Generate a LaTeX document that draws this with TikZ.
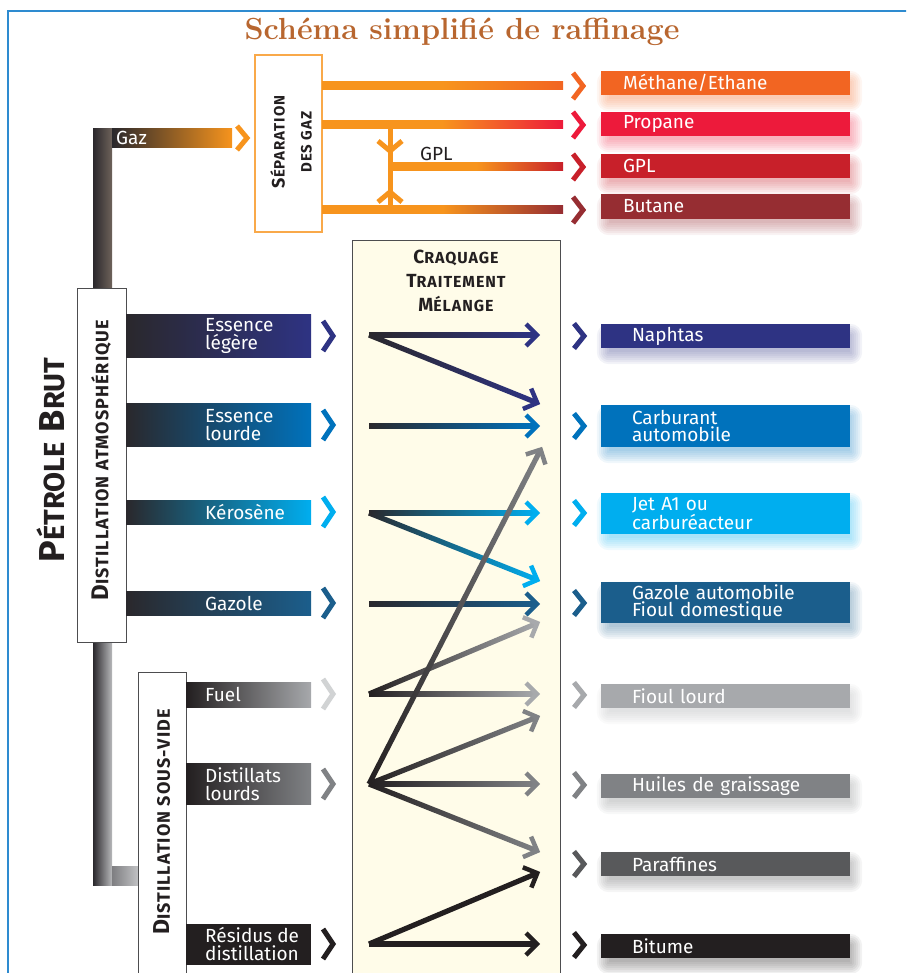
\documentclass[tikz,border=0pt]{standalone}
\usepackage{fontspec}
\newfontfamily\fira{Fira Sans}
\newfontfamily\firacap{Fira Sans}[LetterSpace=6]
\usetikzlibrary{calc,backgrounds}
\definecolor{titre}{HTML}{B8662F}
\definecolor{cadre}{HTML}{2E8BD0}
\definecolor{gazorange}{HTML}{F7941D}
\definecolor{methane}{HTML}{F26522}
\definecolor{propane}{HTML}{ED1A3B}
\definecolor{gpl}{HTML}{C8202A}
\definecolor{butane}{HTML}{962D32}
\definecolor{naphtas}{HTML}{2E3383}
\definecolor{carburant}{HTML}{0072BC}
\definecolor{jet}{HTML}{00AEEF}
\definecolor{gazole}{HTML}{1B5E8C}
\definecolor{fioul}{HTML}{A7A9AC}
\definecolor{fuelclair}{HTML}{D1D3D4}
\definecolor{huiles}{HTML}{808285}
\definecolor{paraffines}{HTML}{58595B}
\definecolor{bitume}{HTML}{231F20}
\definecolor{sombre}{HTML}{2A282C}
\definecolor{brun}{HTML}{6E625A}
\definecolor{grisclair}{HTML}{C6C7C9}
\definecolor{gris}{HTML}{7E7E81}
\definecolor{creme}{HTML}{FFFCE9}
\definecolor{trait}{HTML}{4D4D4F}
\newcommand\pcap[4]{{\fontsize{#1}{#1}\selectfont #3}{\fontsize{#2}{#2}\selectfont #4}}
\newcommand\bande[4]{\shade[#3] ($(#1)!#4!90:(#2)$) -- ($(#2)!#4!-90:(#1)$) -- ($(#2)!#4!90:(#1)$) -- ($(#1)!#4!-90:(#2)$) -- cycle;}
\newcommand\fleche[4]{\coordinate (bout) at ($(#2)!4pt!(#1)$);
	\bande{#1}{bout}{left color=#3, right color=#4}{2.6pt}
	\path (#1) -- (#2) pic[pos=1, sloped, #4]{pointe};}
\newcommand\halo[2]{\begin{scope}[on background layer]
	\foreach \e in {-4,-2,...,8} \fill[#2!85!white, opacity=0.07, rounded corners=4+\e] ($(#1.north west)+(4-\e,8-\e)$) rectangle ($(#1.south east)+(4+\e,8+\e)$);
	\end{scope}}
\tikzset{
	chev/.pic={\draw[line width=5, line join=miter] (-5,-#1) -- (5,0) -- (-5,#1);},
	pointe/.pic={\draw[line width=4.5, line join=miter] (-14,-11) -- (-3,0) -- (-14,11);},
	texte/.style={font=\fira\fontsize{19}{17.5}\selectfont, inner sep=0, align=left},
	barre/.style={minimum height=#1, inner sep=0, anchor=west},
	sortie/.style={fill=#1, text=white, texte, minimum width=249, inner xsep=31, inner ysep=0, text width=187},
	sortiegaz/.style={fill=#1, text=white, texte, minimum width=249, minimum height=24, inner xsep=22, inner ysep=0, text width=205},
	boite/.style={draw=trait, line width=1.2, fill=white, anchor=north west, inner sep=0},
	titrecap/.style={font=\firacap\bfseries\fontsize{#1}{#1}\selectfont, text=bitume}
}
\begin{document}
\begin{tikzpicture}[x=1pt, y=-1pt]
	\useasboundingbox (0,0) rectangle (906,973);
	\clip (0,0) rectangle (906,973);
	\draw[cadre, line width=2] (8,990) -- (8,11) -- (920,11);
	\node[anchor=base, text=titre, font=\bfseries\fontsize{30.5}{30.5}\selectfont] (titre) at (462,40) {Schéma simplifié de raffinage};

	\shade[left color=sombre, right color=brun] (93,129) rectangle (112,290);
	\shade[left color=sombre, right color=grisclair!80!gris] (93,640) rectangle (112,885);
	\shade[left color=gris, right color=grisclair] (112,866) rectangle (140,885);
	\node[barre=19, minimum width=120, left color=sombre, right color=gazorange] (gaz) at (112,138.5) {};
	\node[texte, text=white, anchor=west] (gaz-t) at (116,138) {Gaz};
	\pic[gazorange] at (242,138) {chev=12};

	\node[draw=gazorange!80, line width=1.5, fill=white, minimum width=67, minimum height=177, inner sep=0] (sep) at (288.5,143.5) {};
	\node[rotate=90, align=center, titrecap=27] (sep-t) at (291,142) {\pcap{18}{15}{S}{ÉPARATION}\\\pcap{15}{15}{}{DES GAZ}};
	\coordinate (sep-m) at (322,86);
	\coordinate (fin-m) at (563,86);
	\coordinate (sep-p) at (322,125);
	\coordinate (fin-p) at (563,125);
	\coordinate (gpl-d) at (390,167);
	\coordinate (fin-g) at (563,167);
	\coordinate (sep-b) at (322,210);
	\coordinate (fin-b) at (563,210);
	\coordinate (gpl-h) at (390,125);
	\coordinate (gpl-b) at (390,210);
	\bande{sep-m}{fin-m}{left color=gazorange, right color=methane, middle color=gazorange}{4pt}
	\bande{sep-p}{fin-p}{left color=gazorange, right color=propane, middle color=gazorange}{4pt}
	\bande{gpl-d}{fin-g}{left color=gazorange, right color=gpl, middle color=gazorange}{4pt}
	\bande{sep-b}{fin-b}{left color=gazorange, right color=butane, middle color=gazorange}{4pt}
	\draw[gazorange, line width=5] (gpl-h) -- (gpl-b);
	\pic[gazorange, rotate=-90] at (390,146) {chev=12};
	\pic[gazorange, rotate=90] at (390,197) {chev=12};
	\node[texte, text=bitume, anchor=base west] (gpl-t) at (420,161) {GPL};
	\pic[methane] at (578,86) {chev=13};
	\pic[propane] at (578,125) {chev=13};
	\pic[gpl] at (578,167) {chev=13};
	\pic[butane] at (578,210) {chev=13};
	\node[sortiegaz=methane] (methane) at (725.5,83) {Méthane/Ethane};
	\node[sortiegaz=propane] (propane) at (725.5,124) {Propane};
	\node[sortiegaz=gpl] (gpl) at (725.5,166) {GPL};
	\node[sortiegaz=butane, minimum height=25] (butane) at (725.5,206.5) {Butane};
	\halo{methane}{methane}
	\halo{propane}{propane}
	\halo{gpl}{gpl}
	\halo{butane}{butane}

	\node[boite, minimum width=49, minimum height=354] (atmo) at (77,288) {};
	\node[rotate=90, titrecap=18] (atmo-t) at (101,460) {\pcap{24}{18}{D}{ISTILLATION ATMOSPHÉRIQUE}};
	\node[boite, minimum width=48, minimum height=330] (vide) at (138,672) {};
	\node[rotate=90, titrecap=18] (vide-t) at (162,822) {\pcap{23}{18}{D}{ISTILLATION SOUS-VIDE}};
	\node[rotate=90, font=\fira\bfseries, text=bitume] (brut) at (51,460) {\pcap{36}{29}{P}{ÉTROLE}\hspace{10pt}\pcap{36}{29}{B}{RUT}};

	\node[boite, fill=creme, minimum width=208, minimum height=760] (proc) at (352,240) {};
	\node[align=center, titrecap=24] (proc-t) at (456,281) {\pcap{19}{16}{C}{RAQUAGE}\\\pcap{19}{16}{T}{RAITEMENT}\\\pcap{19}{16}{M}{ÉLANGE}};

	\node[barre=43, minimum width=185, left color=sombre, right color=naphtas] (legere) at (126,336) {};
	\node[barre=43, minimum width=185, left color=sombre, right color=carburant] (lourde) at (126,425) {};
	\node[barre=24, minimum width=185, left color=sombre, right color=jet] (kero) at (126,512) {};
	\node[barre=24, minimum width=185, left color=sombre, right color=gazole] (gazole) at (126,603) {};
	\node[barre=25, minimum width=125, left color=bitume, right color=fioul] (fuel) at (186,694.5) {};
	\node[barre=41, minimum width=125, left color=bitume, right color=huiles] (distil) at (186,784) {};
	\node[barre=41, minimum width=125, fill=bitume] (resid) at (186,944) {};
	\node[texte, text=white, anchor=west] (legere-t) at (205,336) {Essence\\légère};
	\node[texte, text=white, anchor=west] (lourde-t) at (205,425) {Essence\\lourde};
	\node[texte, text=white, anchor=west] (kero-t) at (205,512) {Kérosène};
	\node[texte, text=white, anchor=west] (gazole-t) at (205,603) {Gazole};
	\node[texte, text=white, anchor=west] (fuel-t) at (205,694) {Fuel};
	\node[texte, text=white, anchor=west] (distil-t) at (205,784) {Distillats\\lourds};
	\node[texte, text=white, anchor=west] (resid-t) at (205,944) {Résidus de\\distillation};
	\pic[naphtas] at (328,336) {chev=15};
	\pic[carburant] at (328,425) {chev=15};
	\pic[jet] at (328,512) {chev=15};
	\pic[gazole] at (328,603) {chev=15};
	\pic[fuelclair] at (328,694) {chev=15};
	\pic[huiles] at (328,784) {chev=15};
	\pic[bitume] at (328,944) {chev=15};

	\coordinate (in-leg) at (369,335);
	\coordinate (in-lou) at (369,426);
	\coordinate (in-ker) at (369,513);
	\coordinate (in-gaz) at (369,604);
	\coordinate (in-fue) at (369,694);
	\coordinate (in-dis) at (369,784);
	\coordinate (in-res) at (369,944);
	\coordinate (out-nap) at (540,335);
	\coordinate (out-car) at (540,426);
	\coordinate (out-jet) at (540,513);
	\coordinate (out-gau) at (540,604);
	\coordinate (out-fio) at (540,694);
	\coordinate (out-hui) at (540,784);
	\coordinate (out-bit) at (540,944);
	\coordinate (leg-car) at (540,404);
	\coordinate (ker-gau) at (540,581);
	\coordinate (fue-gau) at (540,622);
	\coordinate (dis-car) at (542,447);
	\coordinate (dis-fio) at (540,716);
	\coordinate (dis-par) at (540,852);
	\coordinate (res-par) at (540,872);
	\fleche{in-leg}{out-nap}{sombre}{naphtas}
	\fleche{in-leg}{leg-car}{sombre}{naphtas}
	\fleche{in-lou}{out-car}{sombre}{carburant}
	\fleche{in-ker}{out-jet}{sombre}{jet}
	\fleche{in-ker}{ker-gau}{sombre}{jet}
	\fleche{in-gaz}{out-gau}{sombre}{gazole}
	\fleche{in-fue}{out-fio}{bitume}{fioul}
	\fleche{in-fue}{fue-gau}{bitume}{fioul}
	\fleche{in-dis}{out-hui}{bitume}{huiles}
	\fleche{in-dis}{dis-fio}{bitume}{huiles}
	\fleche{in-dis}{dis-par}{bitume}{huiles}
	\fleche{in-res}{out-bit}{bitume}{bitume}
	\fleche{in-res}{res-par}{bitume}{bitume}
	\fleche{in-dis}{dis-car}{bitume}{huiles}

	\pic[naphtas] at (579,336) {chev=12.5};
	\pic[carburant] at (579,426) {chev=12.5};
	\pic[jet] at (579,513) {chev=12.5};
	\pic[gazole] at (579,603) {chev=12.5};
	\pic[fioul] at (579,695) {chev=12.5};
	\pic[huiles] at (579,785) {chev=12.5};
	\pic[paraffines] at (579,864) {chev=12.5};
	\pic[bitume] at (579,945) {chev=12.5};
	\node[sortie=naphtas, minimum height=24] (naphtas) at (725.5,336) {Naphtas};
	\node[sortie=carburant, minimum height=42] (carbu) at (725.5,426) {Carburant\\automobile};
	\node[sortie=jet, minimum height=41] (jetA) at (725.5,513.5) {Jet A1 ou\\carburéacteur};
	\node[sortie=gazole, minimum height=41] (gazauto) at (725.5,602.5) {Gazole automobile\\Fioul domestique};
	\node[sortie=fioul, minimum height=24] (fioul) at (725.5,696) {Fioul lourd};
	\node[sortie=huiles, minimum height=24] (huiles) at (725.5,786) {Huiles de graissage};
	\node[sortie=paraffines, minimum height=24] (paraf) at (725.5,864) {Paraffines};
	\node[sortie=bitume, minimum height=24] (bitume) at (725.5,946) {Bitume};
	\halo{naphtas}{naphtas}
	\halo{carbu}{carburant}
	\halo{jetA}{jet}
	\halo{gazauto}{gazole}
	\halo{fioul}{fioul}
	\halo{huiles}{huiles}
	\halo{paraf}{paraffines}
	\halo{bitume}{bitume}
\end{tikzpicture}
\end{document}
